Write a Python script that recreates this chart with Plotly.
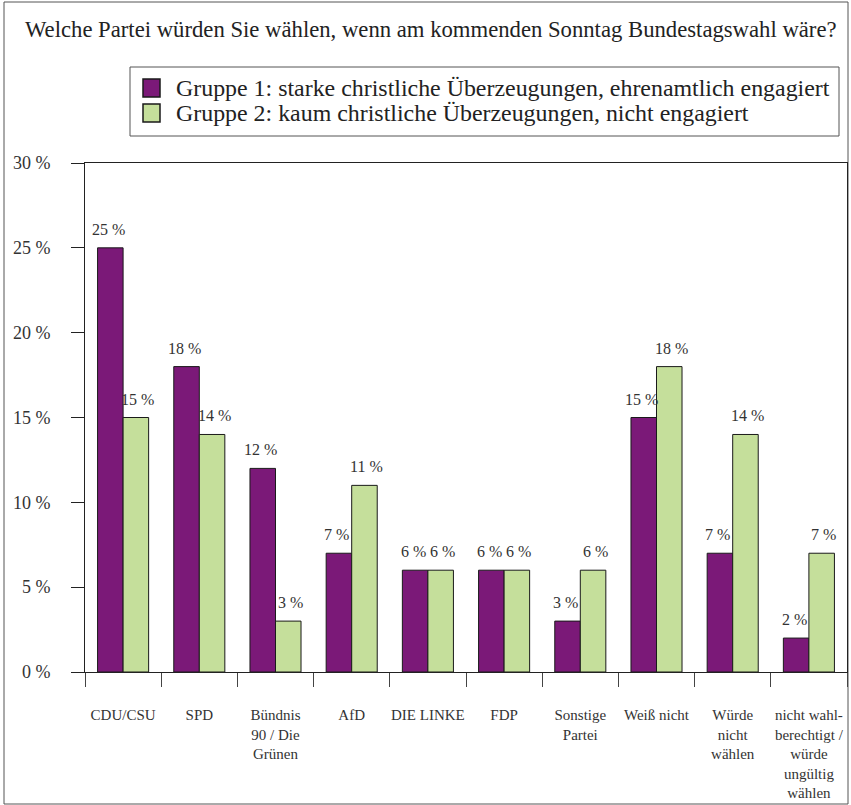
import plotly.graph_objects as go

categories = ["CDU/CSU", "SPD", "Bündnis<br>90 / Die<br>Grünen", "AfD", "DIE LINKE", "FDP",
              "Sonstige<br>Partei", "Weiß nicht", "Würde<br>nicht<br>wählen",
              "nicht wahl-<br>berechtigt /<br>würde<br>ungültig<br>wählen"]
gruppe1 = [25, 18, 12, 7, 6, 6, 3, 15, 7, 2]
gruppe2 = [15, 14, 3, 11, 6, 6, 6, 18, 14, 7]
name1 = "Gruppe 1: starke christliche Überzeugungen, ehrenamtlich engagiert"
name2 = "Gruppe 2: kaum christliche Überzeugungen, nicht engagiert"
title = "Welche Partei würden Sie wählen, wenn am kommenden Sonntag Bundestagswahl wäre?"
yticks = [0, 5, 10, 15, 20, 25, 30]
yticktext = [f"{v} %" for v in yticks]

W, H = 851, 805
L, R, T, B = 85, 847, 163, 672
FONT = "Liberation Serif"
purple = "#7B1978"
green = "#C5DF9B"
BARGAP = 0.33

def px_x(p):
    return (p - L) / (R - L)

def px_y(p):
    return (B - p) / (B - T)

fig = go.Figure()
for vals, name, col in [(gruppe1, name1, purple), (gruppe2, name2, green)]:
    fig.add_trace(go.Bar(x=categories, y=vals, name=name, showlegend=False,
                         marker=dict(color=col, line=dict(color="#1a1a1a", width=1))))

# value labels above bars (offset by half a bar width left/right of category centre)
bar_w = (R - L) / len(categories) * (1 - BARGAP) / 2
annotations = []
for vals, sign in [(gruppe1, -1), (gruppe2, 1)]:
    for c, v in zip(categories, vals):
        annotations.append(dict(text=f"{v} %", x=c, y=v, xref="x", yref="y",
                                xshift=sign * (bar_w / 2 + 2), yshift=8,
                                xanchor="center", yanchor="bottom", showarrow=False,
                                font=dict(family=FONT, size=16, color="#333333")))

shapes = [
    # outer frame
    dict(type="rect", xref="paper", yref="paper",
         x0=px_x(4), x1=px_x(848), y0=px_y(804), y1=px_y(2),
         line=dict(color="#555555", width=1), layer="below"),
    # legend box
    dict(type="rect", xref="paper", yref="paper",
         x0=px_x(130), x1=px_x(839), y0=px_y(136), y1=px_y(67),
         line=dict(color="#555555", width=1), fillcolor="white"),
    # legend swatches
    dict(type="rect", xref="paper", yref="paper",
         x0=px_x(143), x1=px_x(160), y0=px_y(97), y1=px_y(79),
         line=dict(color="#1a1a1a", width=1.5), fillcolor=purple),
    dict(type="rect", xref="paper", yref="paper",
         x0=px_x(143), x1=px_x(160), y0=px_y(122), y1=px_y(104),
         line=dict(color="#1a1a1a", width=1.5), fillcolor=green),
]

annotations += [
    dict(text=name1, xref="paper", yref="paper", x=px_x(174), y=px_y(88),
         xanchor="left", yanchor="middle", showarrow=False,
         font=dict(family=FONT, size=23.9, color="#222222")),
    dict(text=name2, xref="paper", yref="paper", x=px_x(174), y=px_y(113),
         xanchor="left", yanchor="middle", showarrow=False,
         font=dict(family=FONT, size=23.9, color="#222222")),
]

fig.update_layout(
    width=W, height=H,
    margin=dict(l=L, r=W - R, t=T, b=H - B, pad=0),
    paper_bgcolor="white", plot_bgcolor="white",
    barmode="group", bargap=BARGAP, bargroupgap=0,
    font=dict(family=FONT, color="#333333"),
    title=dict(text=title, x=25 / W, xanchor="left", xref="container",
               y=1 - 29 / H, yanchor="middle", yref="container",
               font=dict(family=FONT, size=22.7, color="#222222")),
    xaxis=dict(type="category", showline=True, linecolor="#222222", linewidth=1,
               mirror=True, ticks="outside", tickson="boundaries", ticklen=14,
               tickcolor="#444444", tickwidth=1, showgrid=False, tickangle=0,
               automargin=False,
               tickfont=dict(family=FONT, size=15, color="#333333"),
               ticklabelstandoff=29),
    yaxis=dict(range=[0, 30], tickvals=yticks, ticktext=yticktext,
               showline=True, linecolor="#222222", linewidth=1, mirror=True,
               ticks="outside", ticklen=13, tickcolor="#222222", tickwidth=1,
               showgrid=False, zeroline=False, automargin=False,
               tickfont=dict(family=FONT, size=18, color="#333333"),
               ticklabelstandoff=17),
    shapes=shapes,
    annotations=annotations,
)

fig.write_html("out.html", config={"displayModeBar": False},
               post_script="document.body.style.margin='0';")
